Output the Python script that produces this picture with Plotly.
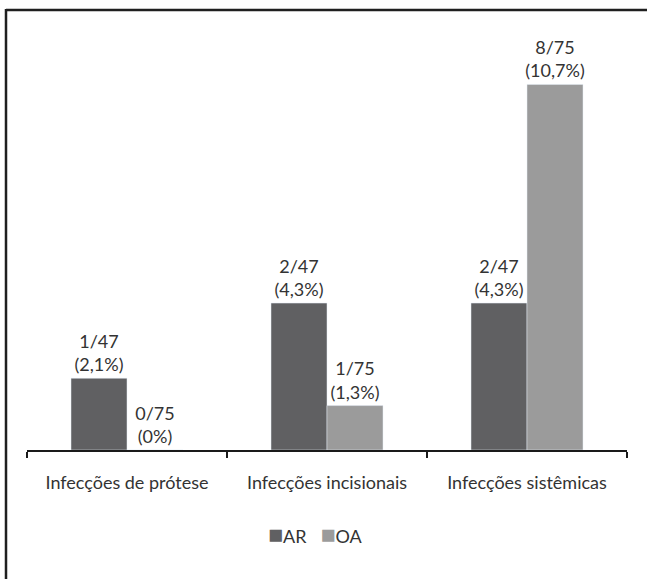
import plotly.graph_objects as go

categories = ["Infecções de prótese", "Infecções incisionais", "Infecções sistêmicas"]
series_names = ["AR", "OA"]
ar_values = [2.1, 4.3, 4.3]
oa_values = [0, 1.3, 10.7]
ar_labels = ["1/47<br>(2,1%)", "2/47<br>(4,3%)", "2/47<br>(4,3%)"]
oa_labels = ["0/75<br>(0%)", "1/75<br>(1,3%)", "8/75<br>(10,7%)"]

FONT = "Lato"
FS = 18
TXT = "#333333"
AR_COLOR = "#606062"
OA_COLOR = "#9b9b9b"

fig = go.Figure()
for name, vals, labels, color in [(series_names[0], ar_values, ar_labels, AR_COLOR),
                                  (series_names[1], oa_values, oa_labels, OA_COLOR)]:
    fig.add_trace(go.Bar(name=name, x=categories, y=vals, marker_color=color,
                         text=labels, textposition="outside", constraintext="none",
                         cliponaxis=False, textfont=dict(family=FONT, size=FS, color=TXT)))

L, R, T, B = 27, 20, 40, 129
H = 579 - T - B

def py(p):
    return (579 - B - p) / H

def px(p):
    return (p - L) / (647 - L - R)

sq = "<span style='font-size:25px;color:{c}'>■</span>"
legend_text = (sq.format(c=AR_COLOR) + series_names[0] + "\u00a0\u00a0\u00a0"
               + sq.format(c=OA_COLOR) + series_names[1])

fig.update_layout(
    width=647, height=579,
    margin=dict(l=L, r=R, t=T, b=B, autoexpand=False),
    paper_bgcolor="white", plot_bgcolor="white",
    barmode="group", bargap=0.44, bargroupgap=0.0,
    font=dict(family=FONT, size=FS, color=TXT),
    showlegend=False,
    xaxis=dict(showline=True, linecolor="#1a1a1a", linewidth=2,
               ticks="outside", tickson="boundaries", ticklen=6, tickwidth=2,
               tickcolor="#1a1a1a", ticklabelstandoff=15,
               tickfont=dict(family=FONT, size=FS, color=TXT), fixedrange=True),
    yaxis=dict(range=[0, 12], visible=False, showgrid=False, zeroline=False),
    annotations=[dict(text=legend_text, xref="paper", yref="paper",
                      x=px(315), y=py(533), xanchor="center", yanchor="middle",
                      showarrow=False, font=dict(family=FONT, size=FS, color=TXT))],
    shapes=[
        dict(type="line", xref="paper", yref="paper", x0=px(6), x1=px(660),
             y0=py(10), y1=py(10), line=dict(color="#1f1f1f", width=2.5)),
        dict(type="line", xref="paper", yref="paper", x0=px(6), x1=px(6),
             y0=py(9), y1=py(600), line=dict(color="#1f1f1f", width=2.5)),
    ],
)

fig.write_html("out.html")
